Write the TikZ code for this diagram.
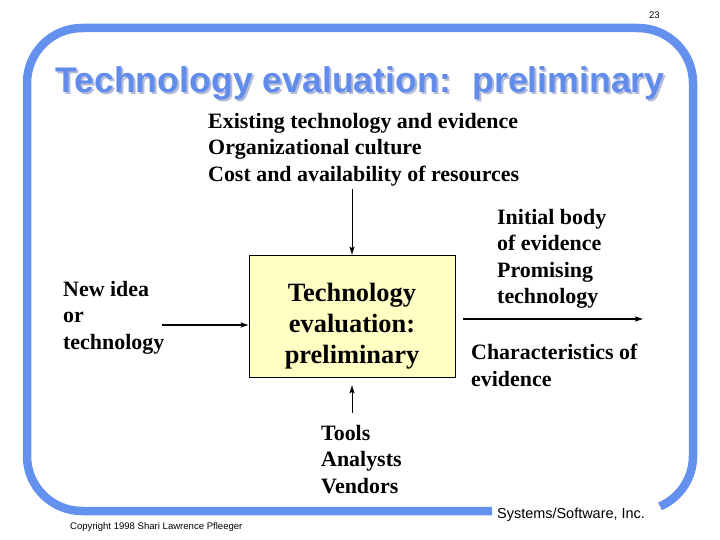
\documentclass[tikz,border=0pt]{standalone}
\usepackage{fontspec}
\setmainfont{Liberation Serif}
\newfontfamily\arialfont{Liberation Sans}
\usetikzlibrary{arrows.meta}
\definecolor{framecol}{RGB}{100,145,238}
\definecolor{titlecol}{RGB}{98,140,236}
\definecolor{shadowcol}{RGB}{180,188,216}
\definecolor{boxfill}{RGB}{255,255,196}
\newcommand{\titletext}{Technology evaluation:\hspace{0.6em}preliminary}
\tikzset{
  framepath/.style={draw=framecol, line width=8.5bp, line cap=butt},
  txt/.style={font=\fontsize{22}{26.5}\selectfont\bfseries, align=left, inner sep=0pt, anchor=north west},
  procbox/.style={draw=black, line width=0.8bp, fill=boxfill, minimum width=206bp, minimum height=122bp, inner sep=0pt},
  boxtxt/.style={font=\fontsize{26.5}{31}\selectfont\bfseries, align=center, inner sep=0pt},
  arr/.style={-{Stealth[length=8bp,width=5bp,inset=1.5bp]}, line width=1bp},
  arrh/.style={arr, line width=1.6bp},
  titlefont/.style={font=\arialfont\bfseries\fontsize{35.8}{40}\selectfont, inner sep=0pt, anchor=base},
  smallsans/.style={font=\arialfont\fontsize{9.6}{11}\selectfont, inner sep=0pt},
}
\begin{document}
\begin{tikzpicture}[x=1bp,y=-1bp]
\useasboundingbox (0,0) rectangle (720,540);
% frame
\draw[framepath, rounded corners=55bp] (492,511) -- (27,511) -- (27,28) -- (693,28) -- (693,457);
\draw[framepath] (693,456) .. controls (693,478) and (680.1,497.6) .. (660,506.4);
% page number
\node[smallsans, anchor=base east] (pnum) at (660,19) {23};
% title with shadow
\node[titlefont] (title) at (360,93) {\rlap{\hspace{2bp}\raisebox{-2bp}{\textcolor{shadowcol}{\titletext}}}\textcolor{titlecol}{\titletext}};
% context
\node[txt] (ctx) at (208,113) {Existing technology and evidence\\Organizational culture\\Cost and availability of resources};
% box
\node[procbox] (box) at (352,316) {};
\node[boxtxt] (boxlbl) at (352,326) {Technology\\evaluation:\\preliminary};
% input
\node[txt] (inp) at (63,281) {New idea\\or\\technology};
% outputs
\node[txt] (outA) at (497,209) {Initial body\\of evidence\\Promising\\technology};
\node[txt] (outB) at (471,344) {Characteristics of\\evidence};
% mechanisms
\node[txt] (mech) at (321,425) {Tools\\Analysts\\Vendors};
% connectors
\coordinate (ctxEnd) at (352,189);
\coordinate (inStart) at (162,325);
\coordinate (outEnd) at (643,319);
\coordinate (mechStart) at (352,413);
\draw[arr] (ctxEnd) -- (box.north);
\draw[arrh] (inStart) -- (inStart -| box.west);
\draw[arrh] ([xshift=8bp]box.east |- outEnd) -- (outEnd);
\draw[arr] (mechStart) -- ([yshift=-8bp]box.south);
% footer
\node[smallsans, anchor=base west] (copy) at (70,529) {Copyright 1998 Shari Lawrence Pfleeger};
\node[font=\arialfont\fontsize{14.5}{16}\selectfont, inner sep=0pt, anchor=base west] (company) at (497,518) {Systems/Software, Inc.};
\end{tikzpicture}
\end{document}
